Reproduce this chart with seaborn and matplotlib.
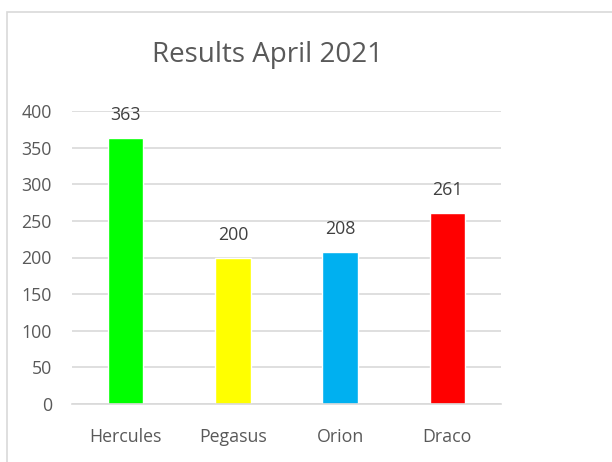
import matplotlib
matplotlib.use('Agg')
import matplotlib.pyplot as plt
from matplotlib.patches import Rectangle
import seaborn as sns
import pandas as pd

# chart data
teams = ['Hercules', 'Pegasus', 'Orion', 'Draco']
results = [363, 200, 208, 261]
colors = ['#00FF00', '#FFFF00', '#00B0F0', '#FF0000']

sns.set_style('white')
plt.rcParams['font.family'] = ['Open Sans', 'DejaVu Sans']
txt = '#595959'

df = pd.DataFrame({'team': teams, 'result': results})

fig = plt.figure(figsize=(6.12, 4.62), dpi=100)
# outer chart frame (light grey, runs off the right/bottom edge)
fig.patches.append(Rectangle((7 / 612, -0.1), 1.2, 1 - 12 / 462 + 0.1,
                             transform=fig.transFigure, fill=False,
                             edgecolor='#D9D9D9', linewidth=1.2))

ax = fig.add_axes([72 / 612, 1 - 404 / 462, 429 / 612, 293 / 462])
sns.barplot(data=df, x='team', y='result', hue='team', palette=colors,
            width=0.33, legend=False, ax=ax, saturation=1)

ax.set_ylim(0, 400)
ax.set_yticks(range(0, 401, 50))
ax.grid(axis='y', color='#D9D9D9', linewidth=1.2)
ax.set_axisbelow(True)
for s in ['top', 'right', 'left']:
    ax.spines[s].set_visible(False)
ax.spines['bottom'].set_color('#D9D9D9')
ax.spines['bottom'].set_linewidth(1.2)
ax.tick_params(axis='both', length=0, labelsize=12.8, labelcolor=txt)
ax.tick_params(axis='y', pad=14.5)
ax.tick_params(axis='x', pad=17)
ax.set_xlabel('')
ax.set_ylabel('')

for cont in ax.containers:
    ax.bar_label(cont, fmt='%d', padding=10, fontsize=12.8, color='#404040')

fig.text(267 / 612, 1 - 55 / 462, 'Results April 2021', ha='center',
         va='center', fontsize=20, color=txt)

fig.savefig('out.png', dpi=100)
